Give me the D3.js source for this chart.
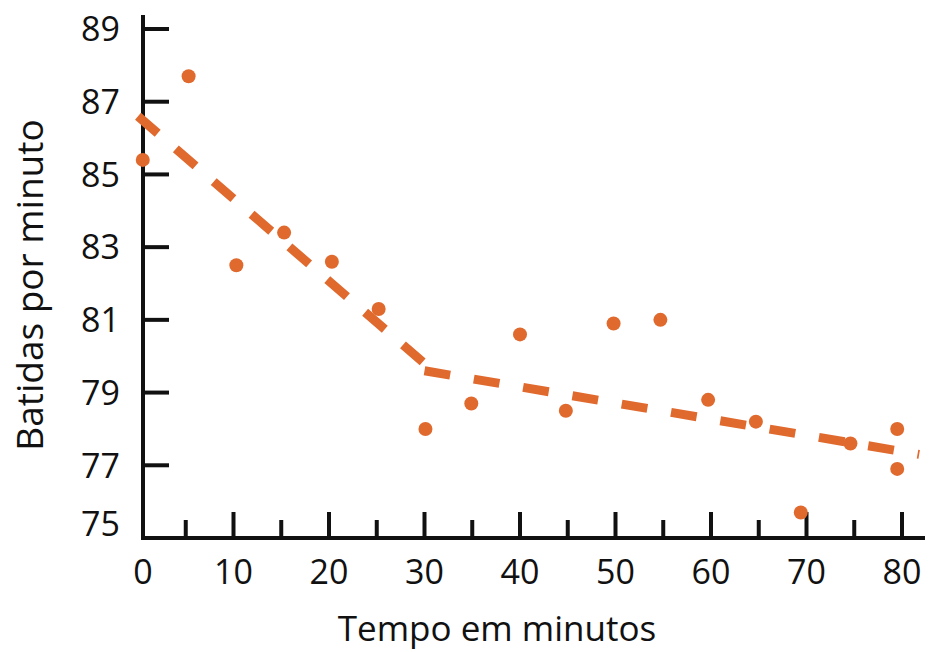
<!DOCTYPE html>
<html><head><meta charset="utf-8">
<script src="https://cdn.jsdelivr.net/npm/d3@7/dist/d3.min.js"></script>
<style>
html,body{margin:0;padding:0;background:#fff;}
text{font-family:"Open Sans",sans-serif;fill:#111;}
</style></head>
<body>
<svg id="c" width="929" height="652"></svg>
<script>
// Data
const minutes = [0.5,5.3,10.3,15.3,20.3,25.2,30.1,34.9,40,44.8,49.8,54.7,59.7,64.7,69.4,74.6,79.5,79.5];
const bpm = [85.4,87.7,82.5,83.4,82.6,81.3,78.0,78.7,80.6,78.5,80.9,81.0,78.8,78.2,75.7,77.6,78.0,76.9];
const trend1X = [0,30], trend1Y = [86.6,79.8];
const trend2X = [30,81.8], trend2Y = [79.6,77.3];
const xMajorTicks = [0,10,20,30,40,50,60,70,80];
const xMinorTicks = [5,15,25,35,45,55,65,75];
const yTicks = [75,77,79,81,83,85,87,89];
const xTitle = "Tempo em minutos", yTitle = "Batidas por minuto";

const orange = "#e0692d";
const svg = d3.select("#c");
const x = d3.scaleLinear().domain([0,80]).range([138,902]);
const y = d3.scaleLinear().domain([75,89]).range([538,29]);

// y axis
svg.append("line").attr("x1",143).attr("x2",143).attr("y1",15).attr("y2",540)
  .attr("stroke","#111").attr("stroke-width",4);
// x axis
svg.append("line").attr("x1",141).attr("x2",925).attr("y1",538).attr("y2",538)
  .attr("stroke","#111").attr("stroke-width",4);

// y ticks
svg.selectAll(".yt").data(yTicks.filter(d=>d!==75)).enter().append("line")
  .attr("x1",143).attr("x2",169).attr("y1",d=>y(d)).attr("y2",d=>y(d))
  .attr("stroke","#111").attr("stroke-width",4);
svg.selectAll(".yl").data(yTicks).enter().append("text")
  .attr("x",120).attr("y",d=>y(d)-(d===75?14:0)).attr("dy","0.36em")
  .attr("text-anchor","end").attr("font-size",34).text(d=>d);

// x ticks
svg.selectAll(".xM").data(xMajorTicks.filter(d=>d!==0)).enter().append("line")
  .attr("x1",d=>x(d)).attr("x2",d=>x(d)).attr("y1",538).attr("y2",512)
  .attr("stroke","#111").attr("stroke-width",4);
svg.selectAll(".xm").data(xMinorTicks).enter().append("line")
  .attr("x1",d=>x(d)).attr("x2",d=>x(d)).attr("y1",538).attr("y2",520)
  .attr("stroke","#111").attr("stroke-width",4);
svg.selectAll(".xl").data(xMajorTicks).enter().append("text")
  .attr("x",d=>d===0?143:x(d)).attr("y",584)
  .attr("text-anchor","middle").attr("font-size",34).text(d=>d);

// titles
svg.append("text").attr("x",497).attr("y",641).attr("text-anchor","middle")
  .attr("font-size",35).text(xTitle);
svg.append("text").attr("transform","translate(43,285) rotate(-90)")
  .attr("text-anchor","middle").attr("font-size",37).text(yTitle);

// trend lines
const line = d3.line().x(d=>x(d[0])).y(d=>y(d[1]));
[[trend1X,trend1Y],[trend2X,trend2Y]].forEach(([xs,ys])=>{
  svg.append("path").datum(xs.map((v,i)=>[v,ys[i]])).attr("d",line)
    .attr("fill","none").attr("stroke",orange).attr("stroke-width",9)
    .attr("stroke-dasharray","26 24");
});

// points
svg.selectAll(".pt").data(minutes.map((m,i)=>[m,bpm[i]])).enter().append("circle")
  .attr("cx",d=>x(d[0])).attr("cy",d=>y(d[1])).attr("r",7)
  .attr("fill",orange);
</script>
</body></html>
